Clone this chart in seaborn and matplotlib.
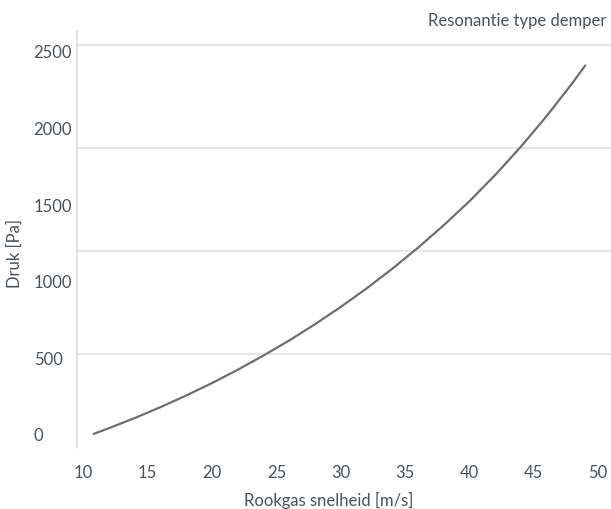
import matplotlib
matplotlib.use("Agg")
import matplotlib.pyplot as plt
import seaborn as sns
import pandas as pd

# rookgas snelheid [m/s] en drukval [Pa]
snelheid = [10.8, 12, 14, 16, 18, 20, 22, 24, 26, 28, 30, 32, 34, 36, 38,
            40, 42, 44, 46, 48, 49]
druk = [0, 38, 104, 175, 251, 332, 419, 512, 610, 716, 829, 949, 1078, 1215,
        1362, 1519, 1690, 1875, 2075, 2290, 2405]

x_ticks = [10, 15, 20, 25, 30, 35, 40, 45, 50]
y_ticks = [0, 500, 1000, 1500, 2000, 2500]

TEKST = "#4b525a"
LIJN = "#6b6e72"
RASTER = "#e6e6e6"

sns.set_theme(style="white")
plt.rcParams["font.family"] = ["Lato", "DejaVu Sans"]

df = pd.DataFrame({"snelheid": snelheid, "druk": druk})

fig = plt.figure(figsize=(6.11, 5.10), dpi=100)
ax = fig.add_axes([0.1255, 0.1216, 0.8745, 0.8162])

sns.lineplot(data=df, x="snelheid", y="druk", ax=ax, color=LIJN, linewidth=1.6)

ax.set_xlim(9.49, 51.0)
ax.set_ylim(-85, 2632)

ax.set_xticks(x_ticks)
ax.set_xticklabels([str(t) for t in x_ticks])
ax.set_yticks(y_ticks)
ax.set_yticklabels([str(t) for t in y_ticks])
# rasterlijnen liggen in het origineel niet op de labels
ax.set_yticks([522, 1196, 1869, 2539], minor=True)
ax.grid(False)
ax.grid(which="minor", axis="y", color=RASTER, linewidth=1.6)

ax.tick_params(which="both", length=0)
ax.tick_params(axis="x", labelsize=12, labelcolor=TEKST, pad=12)
ax.tick_params(axis="y", labelsize=12, labelcolor=TEKST, pad=31)
for lbl in ax.get_yticklabels():
    lbl.set_horizontalalignment("left")

for s in ["top", "right", "bottom"]:
    ax.spines[s].set_visible(False)
ax.spines["left"].set_color("#e2e2e2")
ax.spines["left"].set_linewidth(1.6)

ax.set_xlabel("Rookgas snelheid [m/s]", fontsize=12, color=TEKST)
ax.set_ylabel("Druk [Pa]", fontsize=12, color=TEKST)
ax.xaxis.set_label_coords(0.4717, -0.125)
ax.xaxis.label.set_va("center")
ax.yaxis.set_label_coords(-0.1155, 0.468)
ax.yaxis.label.set_va("center")

fig.text(0.993, 1 - 20.7 / 510, "Resonantie type demper", ha="right", va="center",
         fontsize=12, color=TEKST)

fig.savefig("out.png", dpi=100)
plt.close(fig)
